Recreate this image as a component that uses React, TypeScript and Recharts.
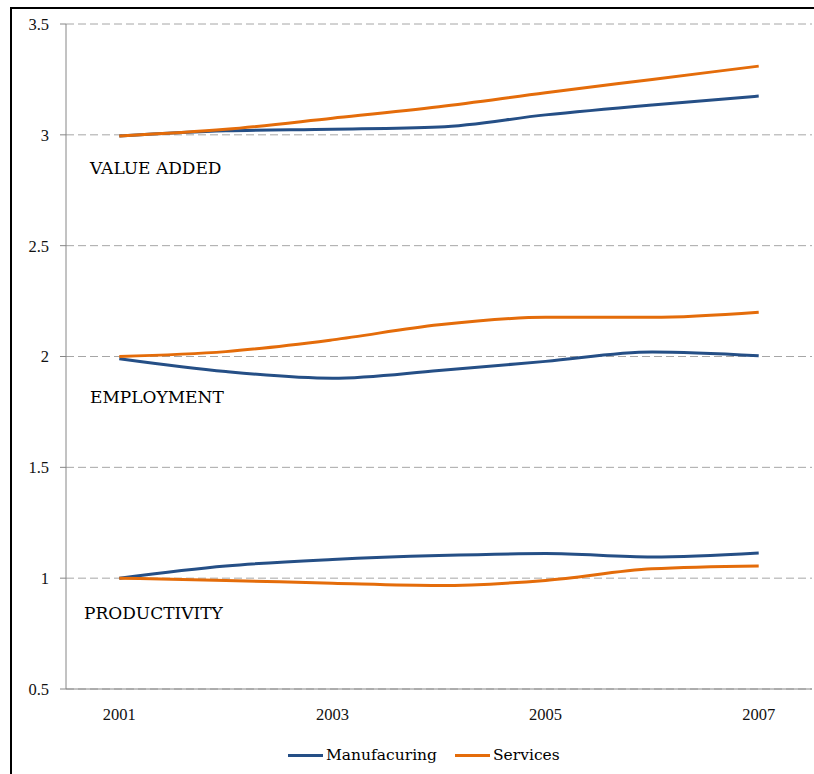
import React from "react";
import { LineChart, Line, XAxis, YAxis, CartesianGrid } from "recharts";

// years on the category axis
const years = [2001, 2002, 2003, 2004, 2005, 2006, 2007];

// index values
const manufValueAdded = [2.995, 3.018, 3.025, 3.035, 3.09, 3.135, 3.175];
const servValueAdded = [2.995, 3.025, 3.075, 3.127, 3.19, 3.25, 3.31];
const manufEmployment = [1.99, 1.932, 1.902, 1.937, 1.978, 2.02, 2.003];
const servEmployment = [2.0, 2.022, 2.075, 2.143, 2.177, 2.177, 2.2];
const manufProductivity = [1.0, 1.055, 1.084, 1.102, 1.111, 1.096, 1.114];
const servProductivity = [1.0, 0.99, 0.977, 0.967, 0.99, 1.042, 1.055];

const yTicks = [0.5, 1, 1.5, 2, 2.5, 3, 3.5];
const bandEdges = [2000.5, 2001.5, 2002.5, 2003.5, 2004.5, 2005.5, 2006.5, 2007.5];
const yearLabels = [2001, 2003, 2005, 2007];

const series = [
	{ name: "Manufacuring", color: "#254F86" },
	{ name: "Services", color: "#E46C0A" },
];

const rows = years.map((year, i) => ({
	year,
	mVA: manufValueAdded[i],
	sVA: servValueAdded[i],
	mEmp: manufEmployment[i],
	sEmp: servEmployment[i],
	mProd: manufProductivity[i],
	sProd: servProductivity[i],
}));

const lines: { key: string; color: string }[] = [
	{ key: "mVA", color: series[0].color },
	{ key: "sVA", color: series[1].color },
	{ key: "mEmp", color: series[0].color },
	{ key: "sEmp", color: series[1].color },
	{ key: "mProd", color: series[0].color },
	{ key: "sProd", color: series[1].color },
];

const notes = [
	{ text: "VALUE ADDED", left: 90, top: 158 },
	{ text: "EMPLOYMENT", left: 90, top: 387 },
	{ text: "PRODUCTIVITY", left: 84, top: 603 },
];

const tickFont = { fill: "#111", fontSize: 16.5, fontFamily: "Liberation Serif" };
const axisGray = "#868686";

export default function App() {
	return (
		<div
			style={{
				position: "absolute",
				left: 0,
				top: 0,
				width: 814,
				height: 774,
				background: "#fff",
				overflow: "hidden",
			}}
		>
			{/* frame edges */}
			<div
				style={{
					position: "absolute",
					left: 10,
					top: 7,
					width: 820,
					height: 780,
					borderLeft: "2px solid #000",
					borderTop: "2px solid #000",
				}}
			/>
			<LineChart
				width={814}
				height={774}
				data={rows}
				margin={{ top: 24, right: 2, left: 10, bottom: 49 }}
				style={{ position: "absolute", left: 0, top: 0 }}
			>
				<CartesianGrid
					xAxisId="bands"
					vertical={false}
					stroke="#A6A6A6"
					strokeDasharray="8 4"
				/>
				<XAxis
					xAxisId="bands"
					dataKey="year"
					type="number"
					domain={[2000.5, 2007.5]}
					ticks={bandEdges}
					tick={false}
					tickSize={5}
					height={6}
					stroke={axisGray}
					allowDataOverflow
				/>
				<XAxis
					xAxisId="labels"
					dataKey="year"
					type="number"
					domain={[2000.5, 2007.5]}
					ticks={yearLabels}
					axisLine={false}
					tickLine={false}
					tickSize={6}
					tickMargin={7}
					height={30}
					tick={tickFont}
					allowDataOverflow
				/>
				<YAxis
					type="number"
					domain={[0.5, 3.5]}
					ticks={yTicks}
					width={56}
					tickSize={6}
					tickMargin={11}
					stroke={axisGray}
					tick={tickFont}
				/>
				{lines.map((l) => (
					<Line
						key={l.key}
						xAxisId="bands"
						type="monotone"
						dataKey={l.key}
						stroke={l.color}
						strokeWidth={3}
						dot={false}
						isAnimationActive={false}
					/>
				))}
			</LineChart>

			{notes.map((n) => (
				<div
					key={n.text}
					style={{
						position: "absolute",
						left: n.left,
						top: n.top,
						fontFamily: "DejaVu Serif",
						fontSize: 17,
						lineHeight: "20px",
						color: "#000",
						whiteSpace: "nowrap",
					}}
				>
					{n.text}
				</div>
			))}

			<div
				style={{
					position: "absolute",
					left: 288,
					top: 745,
					height: 20,
					display: "flex",
					alignItems: "center",
					fontFamily: "DejaVu Serif",
					fontSize: 15.5,
					color: "#000",
				}}
			>
				{series.map((s, i) => (
					<div
						key={s.name}
						style={{ display: "flex", alignItems: "center", marginLeft: i ? 18 : 0 }}
					>
						<span
							style={{ width: 35, height: 3, background: s.color, marginRight: 3 }}
						/>
						<span>{s.name}</span>
					</div>
				))}
			</div>
		</div>
	);
}
